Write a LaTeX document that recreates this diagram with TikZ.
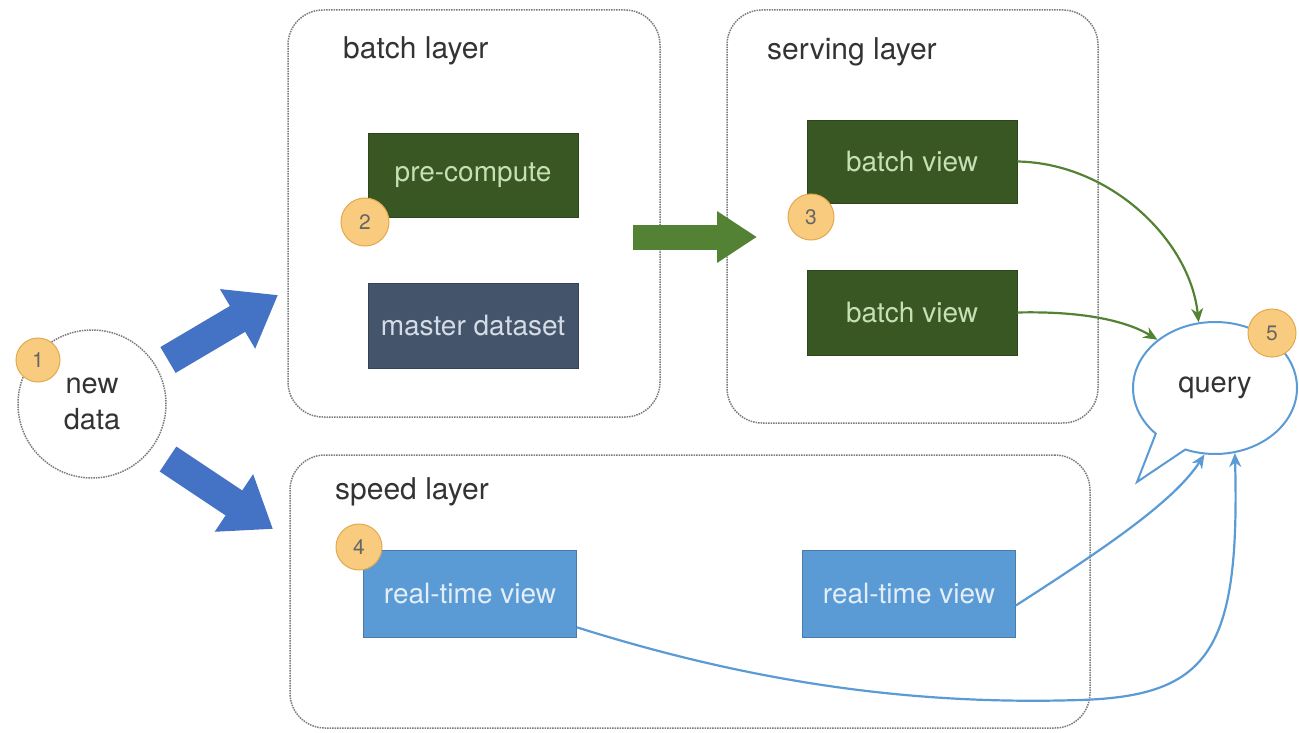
\documentclass[tikz,border=0pt]{standalone}
\usepackage{fontspec}
\setmainfont{TeX Gyre Heros}
\usetikzlibrary{arrows.meta,shapes.callouts}
\definecolor{dgreen}{HTML}{385723}
\definecolor{dgreentxt}{HTML}{C5E0B4}
\definecolor{slate}{HTML}{44546A}
\definecolor{slatetxt}{HTML}{D6DCE5}
\definecolor{lblue}{HTML}{5B9BD5}
\definecolor{lbluetxt}{HTML}{E4EEF8}
\definecolor{fatblue}{HTML}{4472C4}
\definecolor{fatgreen}{HTML}{548235}
\definecolor{badgefill}{HTML}{F9CB7E}
\definecolor{badgeline}{HTML}{E2A94E}
\definecolor{txtgray}{HTML}{333333}
\definecolor{dotgray}{HTML}{7A7A7A}
\begin{document}
\begin{tikzpicture}[x=1pt,y=-1pt,
  layerbox/.style={draw=dotgray, densely dotted, line width=1.5pt, rounded corners=35pt, inner sep=0pt},
  layerlabel/.style={anchor=west, text=txtgray, font=\fontsize{30}{34}\selectfont, inner sep=0pt},
  greenbox/.style={fill=dgreen, draw=dgreen!80!black, line width=0.6pt, text=dgreentxt, font=\fontsize{28}{32}\selectfont, minimum width=210pt, minimum height=84pt, inner sep=0pt},
  slatebox/.style={greenbox, fill=slate, draw=slate!80!black, text=slatetxt},
  bluebox/.style={greenbox, fill=lblue, draw=lblue!80!black, text=lbluetxt, minimum width=213pt, minimum height=87pt},
  badge/.style={circle, fill=badgefill, draw=badgeline, line width=1pt, minimum size=46pt, inner sep=0pt, text=black!60, font=\fontsize{21}{24}\selectfont},
  fatarrow/.style={line width=#1, line cap=butt},
  greenconn/.style={draw=fatgreen, line width=2.2pt, -{Stealth[length=14pt,width=12pt]}},
  blueconn/.style={draw=lblue, line width=2.2pt, -{Stealth[length=14pt,width=12pt]}}
]
\useasboundingbox (0,0) rectangle (1299,733);

% layer boxes
\node[layerbox, minimum width=372pt, minimum height=407pt] (batch) at (474,213.5) {};
\node[layerbox, minimum width=371pt, minimum height=413pt] (serving) at (912.5,216.5) {};
\node[layerbox, minimum width=800pt, minimum height=273pt] (speed) at (690,591.5) {};

\node[layerlabel] (batchlbl) at (343,51) {batch layer};
\node[layerlabel] (servinglbl) at (767,52) {serving layer};
\node[layerlabel] (speedlbl) at (335,492) {speed layer};

% new data
\node[circle, draw=dotgray, densely dotted, line width=1.5pt, minimum size=148pt, inner sep=0pt,
      align=center, text=txtgray, font=\fontsize{29}{36}\selectfont] (newdata) at (92,404) {new\\data};

% inner boxes
\node[greenbox] (pc) at (473,175) {pre-compute};
\node[slatebox, minimum height=85pt] (md) at (473,325.5) {master dataset};
\node[greenbox, minimum height=83pt] (bv1) at (912,161.5) {batch view};
\node[greenbox, minimum height=85pt] (bv2) at (912,312.5) {batch view};
\node[bluebox] (rt1) at (470,593.5) {real-time view};
\node[bluebox] (rt2) at (909,593.5) {real-time view};

% query bubble
\node[ellipse callout, draw=lblue, line width=2pt, fill=white, minimum width=164pt, minimum height=132pt,
      inner sep=0pt, callout absolute pointer={(1137,482)}, callout pointer arc=25,
      text=txtgray, font=\fontsize{29}{34}\selectfont] (query) at (1215,388) {query};

% fat arrows
\coordinate (a1s) at (168,360);
\coordinate (a1e) at (278,295);
\coordinate (a2s) at (168,459);
\coordinate (a2e) at (273,529);
\coordinate (a3s) at (633,237);
\coordinate (a3e) at (757,237);
\draw[fatblue, fatarrow=30pt, -{Triangle[length=47pt,width=66pt]}] (a1s) -- (a1e);
\draw[fatblue, fatarrow=30pt, -{Triangle[length=47pt,width=66pt]}] (a2s) -- (a2e);
\draw[fatgreen, fatarrow=25pt, -{Triangle[length=40pt,width=49pt]}] (a3s) -- (a3e);

% connectors
\draw[greenconn] (bv1.east) .. controls (1110,163) and (1190,240) .. (query.104);
\draw[greenconn] (bv2.east) .. controls (1080,311) and (1125,320) .. (query.140);
\draw[blueconn] ([yshift=-12pt]rt2.east) .. controls (1110,545) and (1175,500) .. (query.-99);
\draw[blueconn] ([yshift=10pt]rt1.south east) .. controls (760,685) and (920,705) .. (1080,700)
   .. controls (1210,696) and (1240,650) .. (query.-73);

% badges
\node[badge, minimum size=44pt] (b1) at (38,360) {1};
\node[badge, minimum size=48pt] (b2) at (365,222) {2};
\node[badge] (b3) at (811,217) {3};
\node[badge] (b4) at (359,547) {4};
\node[badge, minimum size=48pt] (b5) at (1272,333) {5};
\end{tikzpicture}
\end{document}
